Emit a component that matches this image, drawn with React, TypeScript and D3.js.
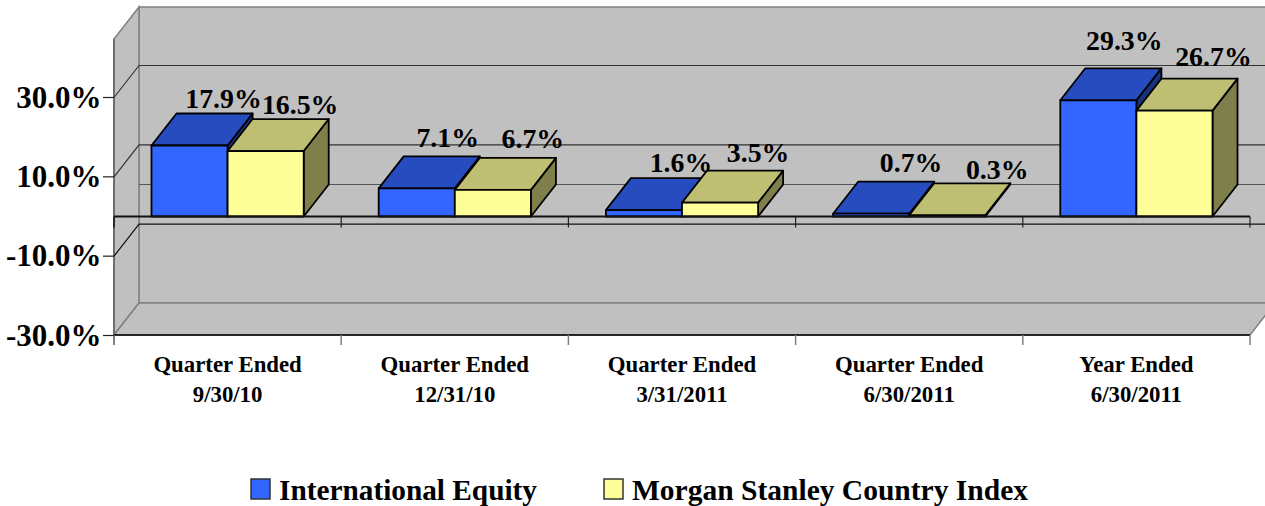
import React from "react";
import * as d3 from "d3";

const categories = [
  ["Quarter Ended", "9/30/10"],
  ["Quarter Ended", "12/31/10"],
  ["Quarter Ended", "3/31/2011"],
  ["Quarter Ended", "6/30/2011"],
  ["Year Ended", "6/30/2011"],
];
const seriesNames = ["International Equity", "Morgan Stanley Country Index"];
const internationalEquity = [17.9, 7.1, 1.6, 0.7, 29.3];
const countryIndex = [16.5, 6.7, 3.5, 0.3, 26.7];
const yTicks = [30, 10, -10, -30];
const yTickLabels = ["30.0%", "10.0%", "-10.0%", "-30.0%"];
// hand-placed data label nudges, as in the source chart
const equityNudge = [[34, -5.5], [31, -9], [37, -6], [40, -10], [26, -18.5]];
const indexNudge = [[34.5, -5], [40, -10], [38, -8.6], [50, -4], [39, -13]];

const W = 1265, H = 506;
const X0 = 114, X1 = 1250, DX = 25, DY = -32;
const FONT = "'Liberation Serif', 'Times New Roman', serif";

const y = d3.scaleLinear().domain([-30, 30]).range([335.5, 97.5]);
const x = d3.scaleBand<number>().domain(d3.range(categories.length)).range([X0, X1]).paddingInner(0.33).paddingOuter(0.165);
const yTop = 39;
const yBottom = y(-30) - 0.5;

const fills = [
  { front: "#3366FF", top: "#264CBF", side: "#1A3380" },
  { front: "#FFFF99", top: "#BFBF73", side: "#7F7F4C" },
];
const pts = (a: number[][]) => a.map((p) => p.join(",")).join(" ");

function Bar({ x0, w, v, c }: { x0: number; w: number; v: number; c: typeof fills[0] }) {
  const t = y(v), b = y(0), x1 = x0 + w;
  return (
    <g stroke="#000" strokeWidth={1.8} strokeLinejoin="round">
      <polygon points={pts([[x1, t], [x1 + DX, t + DY], [x1 + DX, b + DY], [x1, b]])} fill={c.side} />
      <polygon points={pts([[x0, t], [x0 + DX, t + DY], [x1 + DX, t + DY], [x1, t]])} fill={c.top} />
      <rect x={x0} y={t} width={w} height={b - t} fill={c.front} />
    </g>
  );
}

export default function App() {
  const bw = x.bandwidth() / 2;
  const gridBack = [30, 10, -10];
  const legendX = [251, 604];
  const legendLen = [258, 396];
  return (
    <svg width={W} height={H} viewBox={`0 0 ${W} ${H}`} style={{ position: "absolute", left: 0, top: 0, display: "block" }} fontFamily={FONT} fontWeight="bold">
      <rect width={W} height={H} fill="#fff" />
      <polygon points={pts([[X0 + DX, yTop + DY], [X1 + DX, yTop + DY], [X1 + DX, yBottom + DY], [X0 + DX, yBottom + DY]])} fill="#C0C0C0" stroke="#808080" strokeWidth={1.5} />
      <polygon points={pts([[X0, yTop], [X0 + DX, yTop + DY], [X0 + DX, yBottom + DY], [X0, yBottom]])} fill="#C0C0C0" stroke="#808080" strokeWidth={1.5} />
      <polygon points={pts([[X0, yBottom], [X0 + DX, yBottom + DY], [X1 + DX, yBottom + DY], [X1, yBottom]])} fill="#C0C0C0" stroke="#808080" strokeWidth={1.5} />
      <line x1={X0} x2={X0} y1={yTop} y2={yBottom + 10} stroke="#606060" strokeWidth={1.5} />

      {gridBack.map((t) => (
        <g key={t} stroke={t === -10 ? "#111" : "#333"} strokeWidth={1.2} fill="none">
          <polyline points={pts([[X0, y(t)], [X0 + DX, y(t) + DY], [W, y(t) + DY]])} />
        </g>
      ))}
      <line x1={X0 + DX} x2={W} y1={y(0) + DY} y2={y(0) + DY} stroke="#555" strokeWidth={1.2} />

      {categories.map((_, i) => {
        const x0 = x(i)!;
        return (
          <g key={i}>
            <Bar x0={x0} w={bw} v={internationalEquity[i]} c={fills[0]} />
            <Bar x0={x0 + bw} w={bw} v={countryIndex[i]} c={fills[1]} />
          </g>
        );
      })}

      <line x1={X0} x2={X1} y1={y(0)} y2={y(0)} stroke="#111" strokeWidth={1.8} />
      <line x1={X0} x2={X0} y1={y(0)} y2={y(0) + 11} stroke="#222" strokeWidth={1.5} />
      <line x1={X0} x2={X1} y1={yBottom} y2={yBottom} stroke="#000" strokeWidth={1.3} />
      {d3.range(categories.length + 1).map((i) => {
        const tx = x.step() * i + X0;
        return (
          <g key={i}>
            <line x1={tx} x2={tx} y1={y(0)} y2={y(0) + 11} stroke="#222" strokeWidth={1.2} />
            <line x1={tx} x2={tx} y1={yBottom} y2={yBottom + 10} stroke="#808080" strokeWidth={1.5} />
          </g>
        );
      })}

      {yTicks.map((t, i) => (
        <g key={t}>
          <line x1={X0 - 11} x2={X0} y1={y(t)} y2={y(t)} stroke="#222" strokeWidth={1.2} />
          <text x={101.5} y={y(t) + 10} textAnchor="end" fontSize={31} fill="#000">{yTickLabels[i]}</text>
        </g>
      ))}

      {categories.map((c, i) => (
        <text key={i} textAnchor="middle" fontSize={22.8} fill="#000">
          {c.map((line, k) => (
            <tspan key={k} x={x.step() * (i + 0.5) + X0} y={372 + k * 29.5}>{line}</tspan>
          ))}
        </text>
      ))}

      {categories.map((_, i) => (
        <g key={i} fontSize={27.8} textAnchor="middle" fill="#000">
          <text x={x(i)! + bw / 2 + equityNudge[i][0]} y={y(internationalEquity[i]) + DY + equityNudge[i][1]}>{internationalEquity[i].toFixed(1)}%</text>
          <text x={x(i)! + bw * 1.5 + indexNudge[i][0]} y={y(countryIndex[i]) + DY + indexNudge[i][1]}>{countryIndex[i].toFixed(1)}%</text>
        </g>
      ))}

      {seriesNames.map((n, i) => (
        <g key={n}>
          <rect x={legendX[i]} y={479} width={19} height={20} fill={fills[i].front} stroke="#333" strokeWidth={1.5} />
          <text x={legendX[i] + 28} y={500} fontSize={29.6} fill="#000" textLength={legendLen[i]} lengthAdjust="spacingAndGlyphs">{n}</text>
        </g>
      ))}
    </svg>
  );
}
